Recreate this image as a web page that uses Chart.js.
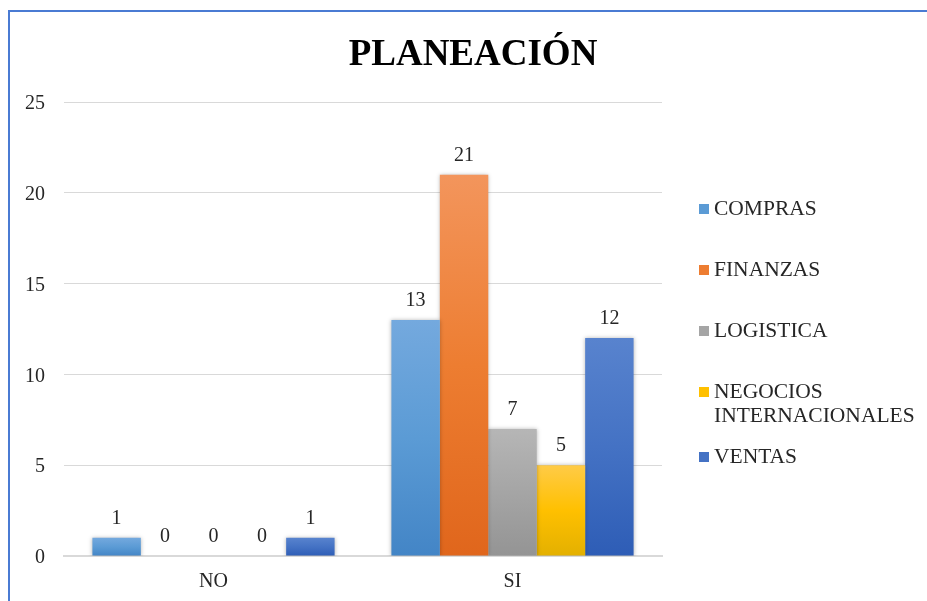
<!DOCTYPE html>
<html>
<head>
<meta charset="utf-8">
<script src="https://cdn.jsdelivr.net/npm/chart.js@4/dist/chart.umd.min.js"></script>
<style>
  html, body { margin: 0; padding: 0; background: #fff; }
  #wrap { position: relative; width: 927px; height: 601px; overflow: hidden; }
  #frame { position: absolute; left: 8px; top: 10px; right: -10px; bottom: -10px;
           border-left: 2px solid #4A7BD3; border-top: 2px solid #4A7BD3; pointer-events: none; }
  canvas { position: absolute; left: 0; top: 0; }
</style>
</head>
<body>
<div id="wrap">
  <canvas id="chart" width="927" height="601"></canvas>
  <div id="frame"></div>
</div>
<script>
// Survey answers per area
const chartTitle = 'PLANEACIÓN';
const categories = ['NO', 'SI'];
const seriesNames = ['COMPRAS', 'FINANZAS', 'LOGISTICA', 'NEGOCIOS INTERNACIONALES', 'VENTAS'];
const compras = [1, 13];
const finanzas = [0, 21];
const logistica = [0, 7];
const negocios = [0, 5];
const ventas = [1, 12];
const yTicks = [0, 5, 10, 15, 20, 25];

// Legend text lines (long name wraps)
const legendLines = [['COMPRAS'], ['FINANZAS'], ['LOGISTICA'], ['NEGOCIOS', 'INTERNACIONALES'], ['VENTAS']];

// Bar fills: light top, base middle, dark bottom
const palettes = [
  ['#74A9DE', '#5B9BD5', '#4385C6'],
  ['#F3955C', '#ED7D31', '#E0661C'],
  ['#B6B6B6', '#A5A5A5', '#949494'],
  ['#FFCB47', '#FFC000', '#E3B000'],
  ['#5883CE', '#4472C4', '#2E5DB6']
];

const FONT = '"Liberation Serif", "Times New Roman", serif';

function barFill(idx) {
  return function (ctx) {
    const p = palettes[idx];
    const chart = ctx.chart;
    const y = chart.scales && chart.scales.y;
    if (!chart.chartArea || !y || ctx.type !== 'data' || !ctx.raw) return p[1];
    const top = y.getPixelForValue(ctx.raw);
    const base = y.getPixelForValue(0);
    if (!isFinite(top) || !isFinite(base) || top === base) return p[1];
    const g = chart.ctx.createLinearGradient(0, top, 0, base);
    g.addColorStop(0, p[0]);
    g.addColorStop(0.5, p[1]);
    g.addColorStop(1, p[2]);
    return g;
  };
}

const values = [compras, finanzas, logistica, negocios, ventas];
const datasets = seriesNames.map((name, i) => ({
  label: name,
  data: values[i],
  backgroundColor: barFill(i),
  borderWidth: 0,
  categoryPercentage: 0.81,
  barPercentage: 1.0
}));

// Soft shadow around bars
const barShadow = {
  id: 'barShadow',
  beforeDatasetsDraw(chart) {
    const c = chart.ctx;
    c.save();
    c.shadowColor = 'rgba(0,0,0,0.28)';
    c.shadowBlur = 4;
    c.shadowOffsetX = 0;
    c.shadowOffsetY = 0;
  },
  afterDatasetsDraw(chart) {
    chart.ctx.restore();
  }
};

// Value labels above each bar
const valueLabels = {
  id: 'valueLabels',
  afterDatasetsDraw(chart) {
    const c = chart.ctx;
    c.save();
    c.font = '20px ' + FONT;
    c.fillStyle = '#262626';
    c.textAlign = 'center';
    c.textBaseline = 'alphabetic';
    chart.data.datasets.forEach((ds, di) => {
      const meta = chart.getDatasetMeta(di);
      meta.data.forEach((bar, i) => {
        c.fillText(String(ds.data[i]), bar.x, bar.y - 14);
      });
    });
    c.restore();
  }
};

// Title and right-side legend
const decorations = {
  id: 'decorations',
  afterDraw(chart) {
    const c = chart.ctx;
    c.save();
    c.fillStyle = '#000';
    c.font = 'bold 37px ' + FONT;
    c.textAlign = 'center';
    c.textBaseline = 'alphabetic';
    c.fillText(chartTitle, 473, 65);

    c.font = '21.5px ' + FONT;
    c.textAlign = 'left';
    let y = 209;
    legendLines.forEach((lines, i) => {
      c.fillStyle = palettes[i][1];
      c.fillRect(699, y - 5, 10, 10);
      c.fillStyle = '#262626';
      lines.forEach((t, li) => c.fillText(t, 714, y + 6 + li * 24));
      y += 61 + (lines.length - 1) * 4;
    });
    c.restore();
  }
};

new Chart(document.getElementById('chart'), {
  type: 'bar',
  data: { labels: categories, datasets },
  plugins: [barShadow, valueLabels, decorations],
  options: {
    responsive: false,
    animation: false,
    layout: { padding: { left: 10, right: 265, top: 102, bottom: 0 } },
    plugins: {
      legend: { display: false },
      title: { display: false },
      tooltip: { enabled: false }
    },
    scales: {
      x: {
        grid: { display: false, drawTicks: false },
        border: { display: true, color: '#D9D9D9', width: 2 },
        ticks: { font: { family: FONT, size: 20 }, color: '#262626', padding: 14 },
        afterFit(scale) { scale.height = 45; }
      },
      y: {
        min: 0,
        max: 25,
        afterBuildTicks(scale) { scale.ticks = yTicks.map(v => ({ value: v })); },
        grid: { color: '#D9D9D9', lineWidth: 1, drawTicks: false },
        border: { display: false },
        ticks: { font: { family: FONT, size: 20 }, color: '#262626', padding: 19, labelOffset: 2 },
        afterFit(scale) { scale.width = 54; }
      }
    }
  }
});
</script>
</body>
</html>
